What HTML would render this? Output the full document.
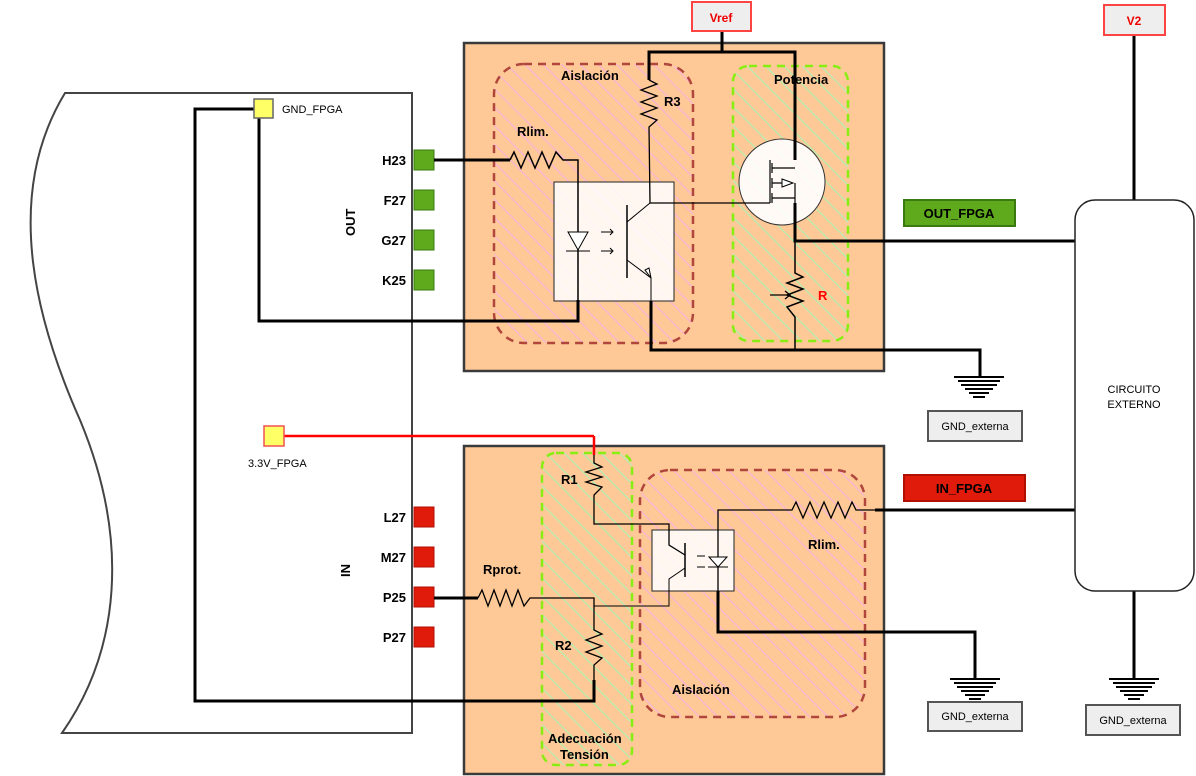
<!DOCTYPE html>
<html><head><meta charset="utf-8"><style>html,body{margin:0;padding:0;background:#fff}svg{display:block}text{font-family:"Liberation Sans",sans-serif}</style></head>
<body>
<svg width="1196" height="776" viewBox="0 0 1196 776" xmlns="http://www.w3.org/2000/svg">
<defs>
<pattern id="hp" width="13" height="13" patternUnits="userSpaceOnUse" patternTransform="rotate(-45)"><line x1="0" y1="0" x2="0" y2="13" stroke="#f8b4d6" stroke-width="2.5"/></pattern>
<pattern id="hg" width="13" height="13" patternUnits="userSpaceOnUse" patternTransform="rotate(-45)"><line x1="0" y1="0" x2="0" y2="13" stroke="#b4eeb0" stroke-width="2.5"/></pattern>
</defs>
<!-- FPGA -->
<path d="M65,93 L412,93 L412,733 L62,733 C120,650 130,540 80,420 C40,330 0,200 65,93 Z" fill="#fff" stroke="#444" stroke-width="2"/>
<g font-weight="bold" font-size="13" text-anchor="end">
<rect x="414" y="150" width="20" height="20" fill="#5ea91c" stroke="#3a7a10"/><text x="406" y="165">H23</text>
<rect x="414" y="190" width="20" height="20" fill="#5ea91c" stroke="#3a7a10"/><text x="406" y="205">F27</text>
<rect x="414" y="230" width="20" height="20" fill="#5ea91c" stroke="#3a7a10"/><text x="406" y="245">G27</text>
<rect x="414" y="270" width="20" height="20" fill="#5ea91c" stroke="#3a7a10"/><text x="406" y="285">K25</text>
<rect x="414" y="507" width="20" height="20" fill="#e01b0b" stroke="#b01000"/><text x="406" y="522">L27</text>
<rect x="414" y="547" width="20" height="20" fill="#e01b0b" stroke="#b01000"/><text x="406" y="562">M27</text>
<rect x="414" y="587" width="20" height="20" fill="#e01b0b" stroke="#b01000"/><text x="406" y="602">P25</text>
<rect x="414" y="627" width="20" height="20" fill="#e01b0b" stroke="#b01000"/><text x="406" y="642">P27</text>
</g>
<text x="0" y="0" font-weight="bold" font-size="13" transform="translate(355,236) rotate(-90)">OUT</text>
<text x="0" y="0" font-weight="bold" font-size="13" transform="translate(350,577) rotate(-90)">IN</text>
<!-- boxes -->
<rect x="464" y="43" width="420" height="328" fill="#fec997" stroke="#3a3a3a" stroke-width="2.5"/>
<rect x="464" y="446" width="420" height="328" fill="#fec997" stroke="#3a3a3a" stroke-width="2.5"/>
<rect x="494" y="64" width="199" height="279" rx="30" fill="url(#hp)" stroke="#b0463c" stroke-width="2.5" stroke-dasharray="8,6"/>
<rect x="733" y="66" width="115" height="275" rx="16" fill="url(#hg)" stroke="#88ee11" stroke-width="2.5" stroke-dasharray="8,6"/>
<rect x="542" y="453" width="90" height="312" rx="14" fill="url(#hg)" stroke="#88ee11" stroke-width="2.5" stroke-dasharray="8,6"/>
<rect x="640" y="470" width="225" height="247" rx="30" fill="url(#hp)" stroke="#b0463c" stroke-width="2.5" stroke-dasharray="8,6"/>
<rect x="554" y="182" width="120" height="119" fill="#fff" fill-opacity="0.85" stroke="#222" stroke-width="1"/>
<rect x="652" y="530" width="82" height="61" fill="#fff" fill-opacity="0.85" stroke="#222" stroke-width="1"/>
<circle cx="782" cy="182" r="43" fill="#fff" fill-opacity="0.9" stroke="#333" stroke-width="1"/>
<g fill="none" stroke="#000">
<polyline points="254,109 195,109 195,701 594,701 594,680" stroke-width="3"/>
<polyline points="259,118 259,321 578,321 578,300" stroke-width="3"/>
<line x1="434" y1="160" x2="510" y2="160" stroke-width="3"/>
<polyline points="510,160 514,152 521,168 528,152 535,168 542,152 549,168 556,152 563,160 578,160 578,301" stroke-width="1.5"/>
<polyline points="722,30 722,52" stroke-width="3"/>
<polyline points="649,80 649,52 795,52 795,140" stroke-width="3"/>
<polyline points="649,80 657,84 641,90 657,96 641,102 657,108 641,114 657,120 649,127 650,203 770,203" stroke-width="1.3"/>
<polyline points="627,222 650,203" stroke-width="1"/>
<line x1="627" y1="205" x2="627" y2="278" stroke-width="1.5"/>
<polyline points="627,260 651,278 651,301" stroke-width="1"/>
<polygon points="651,278 645,270 649,268" fill="#fff" stroke-width="1"/>
<polygon points="568,232 588,232 578,250" fill="#fff" stroke-width="1"/>
<line x1="566" y1="251" x2="590" y2="251" stroke-width="1"/>
<path d="M601,232 h12 m-3,-3 l3,3 l-3,3 M601,251 h12 m-3,-3 l3,3 l-3,3" stroke-width="1"/>
<path d="M770,160 v43 M772,163 v10 M772,178 v10 M772,193 v10 M772,168 h23 M772,183 h10 M772,198 h23 M795,183 v58" stroke-width="1.2"/>
<polygon points="782,179 782,187 793,183" fill="#fff" stroke-width="1"/>
<polyline points="795,140 795,160" stroke-width="3"/>
<polyline points="795,203 795,241 1075,241" stroke-width="3"/>
<polyline points="795,241 795,273 803,277 787,283 803,289 787,295 803,301 787,307 795,317 795,350" stroke-width="1.5"/>
<line x1="770" y1="295" x2="790" y2="295" stroke-width="1.3"/><polyline points="785,291 790,295 785,299" stroke-width="1.3"/>
<polyline points="651,301 651,350 980,350 980,376" stroke-width="3"/>
<path d="M954,377 h50 M958,381 h42 M961,385 h36 M965,389 h28 M969,393 h20 M973,397 h12" stroke-width="2"/>
<polyline points="878,632 975,632 975,678" stroke-width="3"/>
<path d="M950,679 h50 M954,683 h42 M957,687 h36 M961,691 h28 M965,695 h20 M969,699 h12" stroke-width="2"/>
<line x1="1134" y1="35" x2="1134" y2="200" stroke-width="3"/>
<line x1="1134" y1="591" x2="1134" y2="678" stroke-width="3"/>
<path d="M1109,679 h50 M1113,683 h42 M1116,687 h36 M1120,691 h28 M1124,695 h20 M1128,699 h12" stroke-width="2"/>
<polyline points="594,455 594,463 602,467 586,472 602,477 586,482 602,487 594,495 594,524 669,524 669,545 685,555" stroke-width="1.3"/>
<line x1="685" y1="543" x2="685" y2="577" stroke-width="1.5"/>
<polyline points="685,568 669,579 669,606 594,606" stroke-width="1"/>
<line x1="434" y1="598" x2="478" y2="598" stroke-width="3"/>
<polyline points="478,598 482,590 488,606 494,590 500,606 506,590 512,606 518,590 524,606 530,598 594,598 594,630 602,634 586,640 602,646 586,652 602,658 594,665 594,680" stroke-width="1.3"/>
<polyline points="718,591 718,510 792,510 796,502 803,518 810,502 817,518 824,502 831,518 838,502 845,518 852,502 856,510 875,510" stroke-width="1.3"/>
<line x1="875" y1="510" x2="1075" y2="510" stroke-width="3"/>
<polyline points="718,591 718,632 880,632" stroke-width="3"/>
<polygon points="709,557 727,557 718,567" fill="#fff" stroke-width="1"/>
<line x1="708" y1="567" x2="728" y2="567" stroke-width="1"/>
<path d="M697,556 h8 M697,567 h8" stroke-width="1"/>
</g>
<line x1="284" y1="436" x2="594" y2="436" stroke="#f00" stroke-width="2.5"/>
<line x1="594" y1="436" x2="594" y2="455" stroke="#f00" stroke-width="2.5"/>
<g font-weight="bold" font-size="13">
<text x="561" y="80">Aislación</text>
<text x="664" y="106">R3</text>
<text x="517" y="136">Rlim.</text>
<text x="774" y="84">Potencia</text>
<text x="818" y="300" fill="#f00">R</text>
<text x="561" y="484">R1</text>
<text x="483" y="574">Rprot.</text>
<text x="555" y="650">R2</text>
<text x="808" y="549">Rlim.</text>
<text x="672" y="694">Aislación</text>
<text x="548" y="743">Adecuación</text>
<text x="560" y="759">Tensión</text>
</g>
<rect x="254" y="99" width="19" height="19" fill="#ffff66" stroke="#666" stroke-width="1.5"/>
<text x="282" y="113" font-size="11">GND_FPGA</text>
<rect x="264" y="426" width="20" height="20" fill="#ffff66" stroke="#f05050" stroke-width="1.5"/>
<text x="248" y="467" font-size="11">3.3V_FPGA</text>
<rect x="692" y="2" width="59" height="29" fill="#eee" stroke="#f44" stroke-width="2"/>
<text x="721" y="22" font-size="12" font-weight="bold" fill="#e00" text-anchor="middle">Vref</text>
<rect x="1104" y="5" width="61" height="30" fill="#eee" stroke="#f44" stroke-width="2"/>
<text x="1134" y="25" font-size="12" font-weight="bold" fill="#e00" text-anchor="middle">V2</text>
<rect x="1075" y="200" width="119" height="391" rx="20" fill="#fff" stroke="#222" stroke-width="1.5"/>
<text x="1134" y="393" font-size="11" text-anchor="middle">CIRCUITO</text>
<text x="1134" y="408" font-size="11" text-anchor="middle">EXTERNO</text>
<rect x="904" y="200" width="111" height="26" fill="#5ea91c" stroke="#3a7a10" stroke-width="2"/>
<text x="959" y="218" font-size="13" font-weight="bold" text-anchor="middle">OUT_FPGA</text>
<rect x="904" y="475" width="121" height="26" fill="#e01b0b" stroke="#b01000" stroke-width="2"/>
<text x="964" y="493" font-size="13" font-weight="bold" text-anchor="middle">IN_FPGA</text>
<rect x="928" y="411" width="94" height="30" fill="#eee" stroke="#555" stroke-width="2"/>
<text x="975" y="430" font-size="11" text-anchor="middle">GND_externa</text>
<rect x="928" y="702" width="94" height="29" fill="#eee" stroke="#555" stroke-width="2"/>
<text x="975" y="720" font-size="11" text-anchor="middle">GND_externa</text>
<rect x="1086" y="705" width="94" height="30" fill="#eee" stroke="#555" stroke-width="2"/>
<text x="1133" y="724" font-size="11" text-anchor="middle">GND_externa</text>
</svg>
</body></html>
